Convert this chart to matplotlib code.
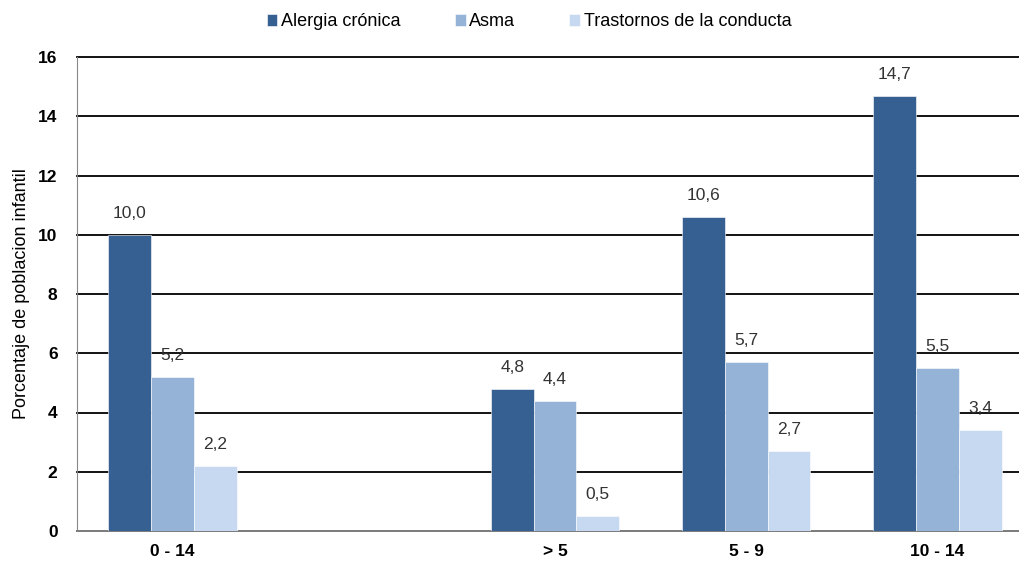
import matplotlib
matplotlib.use("Agg")
import matplotlib.pyplot as plt
import numpy as np

categories = ["0 - 14", "", "> 5", "5 - 9", "10 - 14"]
series_names = ["Alergia crónica", "Asma", "Trastornos de la conducta"]
alergia = [10.0, np.nan, 4.8, 10.6, 14.7]
asma = [5.2, np.nan, 4.4, 5.7, 5.5]
trastornos = [2.2, np.nan, 0.5, 2.7, 3.4]
colors = ["#366092", "#95B3D7", "#C6D9F0"]
yticks = [0, 2, 4, 6, 8, 10, 12, 14, 16]

plt.rcParams['font.family'] = ['Liberation Sans', 'DejaVu Sans']

fig = plt.figure(figsize=(10.19, 5.63), dpi=100)
ax = fig.add_axes([77/1019, 32/563, (1033-77)/1019, (531-57)/563])

x = np.arange(len(categories))
w = 0.224
for i, (vals, name, c) in enumerate(zip([alergia, asma, trastornos], series_names, colors)):
    xs = x + (i - 1) * w
    ax.bar(xs, vals, width=w, color=c, label=name, edgecolor='white', linewidth=0.4, zorder=3)
    for xi, v in zip(xs, vals):
        if not np.isnan(v):
            ax.annotate(f"{v:.1f}".replace('.', ','), (xi, v), xytext=(0, 10), textcoords='offset points',
                        ha='center', va='bottom', fontsize=12.5, color='#333333')

ax.set_xlim(-0.5, len(categories) - 0.5)
ax.set_ylim(0, 16)
ax.set_yticks(yticks)
ax.set_yticklabels([str(t) for t in yticks], fontsize=12.5, fontweight='bold')
ax.set_xticks(x)
ax.set_xticklabels(categories, fontsize=12.5, fontweight='bold')
ax.tick_params(axis='y', length=0, pad=14)
ax.tick_params(axis='x', length=0, pad=9)
ax.yaxis.grid(True, color='black', linewidth=1.3, zorder=0)
for gl in ax.get_ygridlines():
    gl.set_clip_on(False)
ax.set_axisbelow(True)
for s in ['top', 'right']:
    ax.spines[s].set_visible(False)
ax.spines['left'].set_color('#888888')
ax.spines['bottom'].set_color('#888888')
ax.spines['bottom'].set_linewidth(1.3)
ax.set_ylabel("Porcentaje de poblacion infantil", fontsize=13, labelpad=6)

leg = fig.legend(loc='center', bbox_to_anchor=(529/1019, 1 - 22/563), ncol=3, frameon=False,
                 fontsize=13, handlelength=0.6, handleheight=0.6, handletextpad=0.2, columnspacing=3.0)

fig.savefig("out.png", dpi=100)
